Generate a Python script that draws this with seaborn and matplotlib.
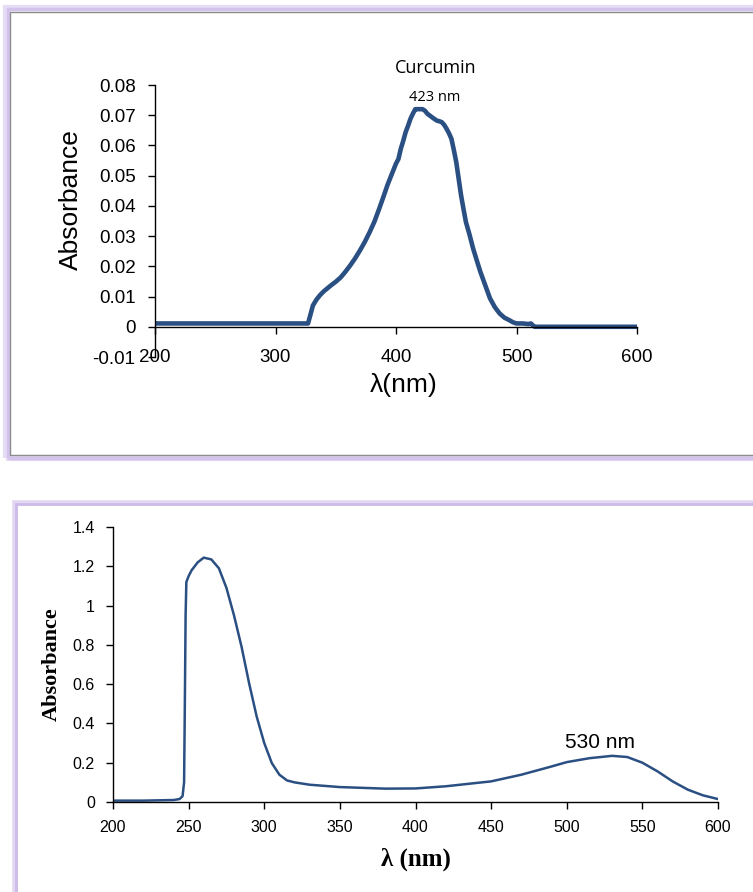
import matplotlib
matplotlib.use("Agg")
import matplotlib.pyplot as plt
from matplotlib.patches import Rectangle
import seaborn as sns

sns.set_theme(style="ticks")
plt.rcParams['font.family'] = ['Liberation Sans', 'DejaVu Sans']
plt.rcParams['text.color'] = 'black'
plt.rcParams['axes.labelcolor'] = 'black'
plt.rcParams['xtick.color'] = 'black'
plt.rcParams['ytick.color'] = 'black'

# ---- curcumin spectrum (top panel) ----
wl_top = [200, 327, 329, 331, 334, 337, 340, 343, 347, 350, 354, 358, 362, 366,
          370, 374, 378, 382, 386, 390, 393, 396, 400, 402, 404, 406, 408, 410,
          412, 414, 416, 418, 422, 424, 426, 428, 431, 434, 436, 438, 440, 442,
          444, 446, 448, 450, 452, 454, 456, 458, 461, 464, 467, 470, 474, 478,
          482, 486, 490, 494, 497, 500, 505, 510, 512, 514, 515, 600]
abs_top = [0.0011, 0.0011, 0.004, 0.007, 0.009, 0.0105, 0.0117, 0.0127, 0.014,
           0.0149, 0.0163, 0.0182, 0.0203, 0.0226, 0.0252, 0.028, 0.0312, 0.0347,
           0.039, 0.0435, 0.047, 0.050, 0.054, 0.0555, 0.0589, 0.0615, 0.0644,
           0.0665, 0.0688, 0.0705, 0.072, 0.072, 0.072, 0.0715, 0.0705, 0.0699,
           0.069, 0.0682, 0.068, 0.0677, 0.0668, 0.0655, 0.064, 0.0622, 0.0585,
           0.0545, 0.049, 0.0435, 0.039, 0.0347, 0.0305, 0.0259, 0.022, 0.0182,
           0.0138, 0.0094, 0.0065, 0.0044, 0.003, 0.0022, 0.0015, 0.0011, 0.0011,
           0.0009, 0.0011, 0.0003, 0.0, 0.0]
top_yticks = [-0.01, 0, 0.01, 0.02, 0.03, 0.04, 0.05, 0.06, 0.07, 0.08]
top_ylabels = ["-0.01", "0", "0.01", "0.02", "0.03", "0.04", "0.05", "0.06", "0.07", "0.08"]
top_xticks = [200, 300, 400, 500, 600]

# ---- second spectrum (bottom panel) ----
wl_bot = [200, 220, 240, 244, 246, 247, 247.5, 248, 248.5, 250, 252, 256, 260,
          265, 270, 275, 280, 285, 290, 295, 300, 305, 310, 315, 320, 330, 350,
          380, 400, 420, 450, 470, 490, 500, 515, 530, 540, 550, 560, 570, 580,
          590, 600]
abs_bot = [0.007, 0.007, 0.01, 0.015, 0.03, 0.1, 0.5, 0.95, 1.12, 1.15, 1.18,
           1.22, 1.244, 1.235, 1.19, 1.09, 0.95, 0.79, 0.604, 0.435, 0.30, 0.198,
           0.139, 0.11, 0.1, 0.088, 0.076, 0.068, 0.069, 0.08, 0.105, 0.139,
           0.181, 0.203, 0.223, 0.235, 0.229, 0.2, 0.156, 0.105, 0.063, 0.034,
           0.015]
bot_yticks = [0, 0.2, 0.4, 0.6, 0.8, 1.0, 1.2, 1.4]
bot_ylabels = ["0", "0.2", "0.4", "0.6", "0.8", "1", "1.2", "1.4"]
bot_xticks = [200, 250, 300, 350, 400, 450, 500, 550, 600]

W, H = 753, 892
fig = plt.figure(figsize=(W / 100, H / 100), dpi=100)
fig.patch.set_facecolor("white")


def frame(x0, y0, x1, y1, color, lw):
    # pixel box (top-left origin) drawn in figure coords
    fig.add_artist(Rectangle((x0 / W, 1 - y1 / H), (x1 - x0) / W, (y1 - y0) / H,
                             transform=fig.transFigure, fill=False,
                             edgecolor=color, linewidth=lw, clip_on=False))


# panel frames with the lilac glow
frame(6.5, 7.5, 820, 458.5, "#e6dcf4", 4.5)
frame(7.5, 8.5, 820, 457.5, "#d3c3ec", 2.5)
frame(10, 12, 820, 455, "#8c8c8c", 1)
frame(14.5, 503.5, 820, 1000, "#e2d6f2", 4.0)
frame(15.5, 504.5, 820, 1000, "#cdbbe8", 2.0)

line_col = "#2a4f82"

# ---------------- top panel ----------------
ax1 = fig.add_axes([155 / W, 1 - 357 / H, 482 / W, 272 / H])
ax1.set_facecolor("none")
sns.lineplot(x=wl_top, y=abs_top, ax=ax1, color=line_col, linewidth=3.3)
ax1.set_xlim(200, 600)
ax1.set_ylim(-0.01, 0.08)
ax1.set_yticks(top_yticks)
ax1.set_yticklabels(top_ylabels)
ax1.set_xticks(top_xticks)
for s in ["top", "right"]:
    ax1.spines[s].set_visible(False)
ax1.spines["bottom"].set_position(("data", 0))
for s in ["left", "bottom"]:
    ax1.spines[s].set_color("black")
    ax1.spines[s].set_linewidth(1)
ax1.tick_params(axis="x", direction="out", length=5, width=1,
                labelsize=13.5, pad=11)
ax1.tick_params(axis="y", direction="out", length=5, width=1,
                labelsize=13.5, pad=9)
ax1.set_xlabel("λ(nm)", fontsize=19)
ax1.set_ylabel("Absorbance", fontsize=19)
ax1.xaxis.set_label_coords(0.515, -0.06)
ax1.yaxis.set_label_coords(-0.15, 0.577)
ax1.text(433, 0.0856, "Curcumin", ha="center", va="center", fontsize=13,
         family=["Open Sans", "DejaVu Sans"])
ax1.text(432, 0.0760, "423 nm", ha="center", va="center", fontsize=10.5,
         family=["Open Sans", "DejaVu Sans"])

# ---------------- bottom panel ----------------
ax2 = fig.add_axes([113 / W, 1 - 802 / H, 605 / W, 275 / H])
ax2.set_facecolor("none")
sns.lineplot(x=wl_bot, y=abs_bot, ax=ax2, color=line_col, linewidth=1.8)
ax2.set_xlim(200, 600)
ax2.set_ylim(0, 1.4)
ax2.set_yticks(bot_yticks)
ax2.set_yticklabels(bot_ylabels)
ax2.set_xticks(bot_xticks)
for s in ["top", "right"]:
    ax2.spines[s].set_visible(False)
for s in ["left", "bottom"]:
    ax2.spines[s].set_color("black")
    ax2.spines[s].set_linewidth(1)
ax2.tick_params(axis="both", direction="out", length=5, width=1,
                labelsize=11.5, pad=8)
ax2.set_xlabel("λ (nm)", fontsize=18, fontweight="bold",
               family=["Liberation Serif", "DejaVu Serif"])
ax2.set_ylabel("Absorbance", fontsize=16, fontweight="bold",
               family=["Liberation Serif", "DejaVu Serif"])
ax2.xaxis.set_label_coords(0.501, -0.165)
ax2.yaxis.set_label_coords(-0.085, 0.5)
ax2.text(522, 0.305, "530 nm", ha="center", va="center", fontsize=15)

fig.savefig("out.png", dpi=100)
